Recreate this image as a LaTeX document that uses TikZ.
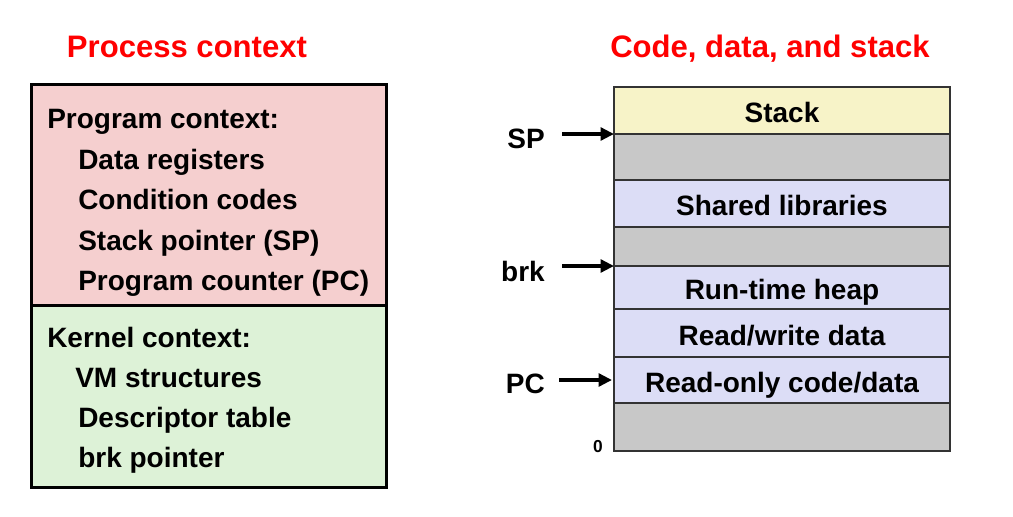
\documentclass[tikz,border=0pt]{standalone}
\usepackage{fontspec}
\setmainfont{Liberation Sans}
\usetikzlibrary{arrows.meta}
\definecolor{pinkbg}{RGB}{245,207,207}
\definecolor{greenbg}{RGB}{221,242,215}
\definecolor{yellowbg}{RGB}{247,243,200}
\definecolor{lavbg}{RGB}{220,221,246}
\definecolor{graybg}{RGB}{200,200,200}
\definecolor{titlered}{RGB}{255,0,0}
\begin{document}
\begin{tikzpicture}[x=0.75pt,y=-0.75pt,
  title/.style={font=\fontsize{23.3}{28}\selectfont\bfseries, text=titlered, inner sep=0pt, anchor=base},
  ctxbox/.style={draw=black, line width=2.25pt, minimum width=266.25pt, inner sep=0pt, outer sep=0pt, anchor=north west},
  ctxtext/.style={font=\fontsize{21}{25}\selectfont\bfseries, inner sep=0pt, anchor=base west},
  seg/.style={draw=black!80, line width=0.9pt, minimum width=252pt, inner sep=0pt, outer sep=0pt, anchor=north west,
    text height=18pt, text depth=0pt, font=\fontsize{21}{25}\selectfont\bfseries},
  ptr/.style={font=\fontsize{21}{25}\selectfont\bfseries, inner sep=0pt, anchor=base east},
  arr/.style={-{Triangle[length=10pt,width=9.5pt]}, line width=2.6pt}
]
\useasboundingbox (0,0) rectangle (1013,517);

% titles
\node[title] (t1) at (187,58) {Process context};
\node[title] (t2) at (770,58) {Code, data, and stack};

% process context boxes
\node[ctxbox, fill=pinkbg, minimum height=165pt] (prog) at (31,85) {};
\node[ctxbox, fill=greenbg, minimum height=136.5pt] (kern) at (prog.south west) {};

\node[ctxtext] (p0) at (47,128) {Program context:};
\node[ctxtext] (p1) at (78,169) {Data registers};
\node[ctxtext] (p2) at (78,209.5) {Condition codes};
\node[ctxtext] (p3) at (78,250) {Stack pointer (SP)};
\node[ctxtext] (p4) at (78,290.5) {Program counter (PC)};

\node[ctxtext] (k0) at (47,347) {Kernel context:};
\node[ctxtext] (k1) at (75,387) {VM structures};
\node[ctxtext] (k2) at (78,427) {Descriptor table};
\node[ctxtext] (k3) at (78,467) {brk pointer};

% memory layout
\node[seg, fill=yellowbg, minimum height=35.25pt] (stack) at (614,87) {Stack};
\node[seg, fill=graybg, minimum height=34.5pt] (gap1) at (stack.south west) {};
\node[seg, fill=lavbg, minimum height=35.25pt] (shlib) at (gap1.south west) {Shared libraries};
\node[seg, fill=graybg, minimum height=29.25pt] (gap2) at (shlib.south west) {};
\node[seg, fill=lavbg, minimum height=32.25pt] (heap) at (gap2.south west) {Run-time heap};
\node[seg, fill=lavbg, minimum height=36pt] (rw) at (heap.south west) {Read/write data};
\node[seg, fill=lavbg, minimum height=34.5pt] (ro) at (rw.south west) {Read-only code/data};
\node[seg, fill=graybg, minimum height=36pt] (gap3) at (ro.south west) {};

% pointers
\node[ptr] (sp) at (545,148) {SP};
\node[ptr] (brk) at (545,281) {brk};
\node[ptr] (pc) at (545,393) {PC};
\node[font=\fontsize{13}{15}\selectfont\bfseries, inner sep=0pt, anchor=base east] (zero) at (603,452) {0};

\coordinate (spfrom) at (562,134);
\coordinate (brkfrom) at (562,266);
\coordinate (pcfrom) at (559,380);
\draw[arr] (spfrom) -- (stack.south west);
\draw[arr] (brkfrom) -- (heap.north west);
\draw[arr, shorten >=1.5pt] (pcfrom) -- (ro.west);
\end{tikzpicture}
\end{document}
